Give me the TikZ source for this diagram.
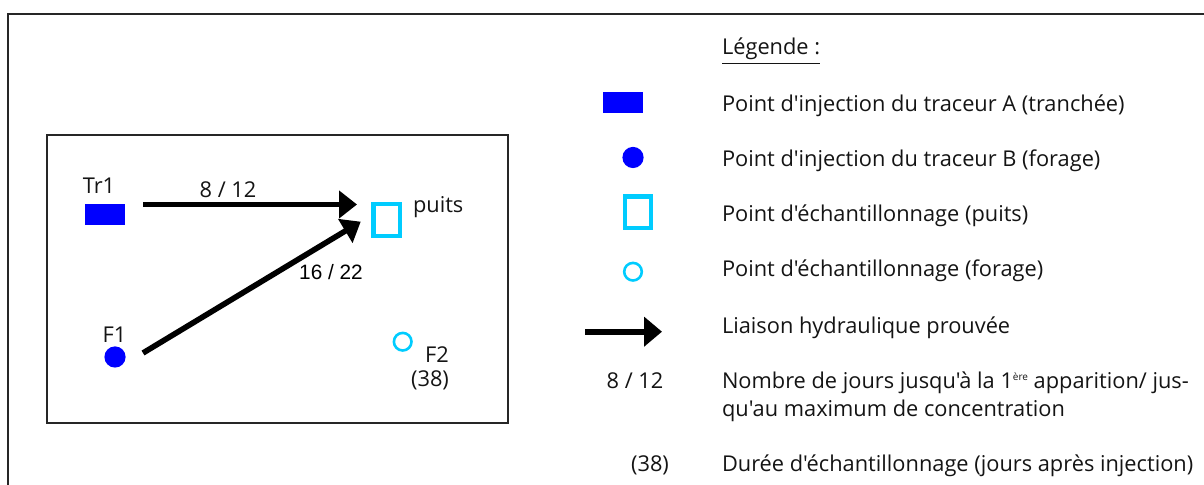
\documentclass[tikz,border=0pt]{standalone}
\usepackage{fontspec}
\newfontfamily\legf{Open Sans}
\newfontfamily\arialf{Liberation Sans}
\usetikzlibrary{arrows.meta}
\definecolor{injblue}{RGB}{0,0,255}
\definecolor{sampcyan}{RGB}{0,204,255}
\definecolor{txtgray}{RGB}{20,20,20}
\begin{document}
\begin{tikzpicture}[x=0.5pt,y=-0.5pt,
  txt/.style={inner sep=0pt, outer sep=0pt, text=txtgray, font=\legf\fontsize{10.9}{13}\selectfont},
  legtxt/.style={txt, anchor=base west},
  rectinj/.style={rectangle, fill=injblue, draw=none, minimum width=20pt, minimum height=10.5pt, inner sep=0pt},
  dotinj/.style={circle, fill=injblue, draw=none, minimum size=10.6pt, inner sep=0pt},
  sqsamp/.style={rectangle, draw=sampcyan, line width=2.2pt, minimum width=13.2pt, minimum height=15.8pt, inner sep=0pt},
  circsamp/.style={circle, draw=sampcyan, line width=1.3pt, minimum size=8.8pt, inner sep=0pt},
  flow/.style={line width=2.8pt, -{Triangle[length=9pt,width=13.5pt]}},
]
\useasboundingbox (0,0) rectangle (1204,485);
% outer frame
\coordinate (fbl) at (8,486);
\coordinate (ftl) at (8,14);
\coordinate (ftr) at (1205,14);
\draw[line width=1pt, black!85] (fbl) -- (ftl) -- (ftr);
% inner box
\coordinate (ibl) at (47,135);
\coordinate (itr) at (508,423);
\draw[line width=0.8pt, black!85] (ibl) rectangle (itr);

% map
\node[rectinj] (tr1) at (105,214.5) {};
\node[txt, anchor=base] (tr1lbl) at (99,194) {Tr1};
\node[sqsamp] (puits) at (386.5,220) {};
\node[txt, anchor=base west] (puitslbl) at (413,213) {puits};
\node[dotinj] (f1) at (115,357) {};
\node[txt, anchor=base] (f1lbl) at (114.5,343) {F1};
\node[circsamp] (f2) at (402.7,341.7) {};
\node[txt, anchor=base] (f2lbl) at (437,363) {F2};
\node[txt, anchor=base] (f2dur) at (430,387) {(38)};

\coordinate (a1s) at (143,204.5);
\coordinate (a1e) at (357,204.5);
\coordinate (a2s) at (143,353);
\coordinate (a2e) at (360.7,221.7);
\draw[flow] (a1s) -- (a1e);
\draw[flow] (a2s) -- (a2e);
\node[txt, anchor=base] (lab1) at (228,198) {8 / 12};
\node[inner sep=0pt, anchor=base, font=\arialf\fontsize{10.4}{12}\selectfont] (lab2) at (331,280) {16 / 22};

% legend
\node[legtxt] (legtitle) at (722,55) {\underline{Légende :}};
\node[rectinj] (lrect) at (623,102.5) {};
\node[legtxt] (lt1) at (722,112) {Point d'injection du traceur A (tranchée)};
\node[dotinj] (ldot) at (633,157.5) {};
\node[legtxt] (lt2) at (722,167) {Point d'injection du traceur B (forage)};
\node[sqsamp] (lsq) at (638,212.5) {};
\node[legtxt] (lt3) at (722,222) {Point d'échantillonnage (puits)};
\node[circsamp] (lcirc) at (633,271.7) {};
\node[legtxt] (lt4) at (722,277) {Point d'échantillonnage (forage)};
\coordinate (las) at (585,331.7);
\coordinate (lae) at (662,331.7);
\draw[line width=3pt, -{Triangle[length=9pt,width=14.5pt]}] (las) -- (lae);
\node[legtxt] (lt5) at (722,334) {Liaison hydraulique prouvée};
\node[txt, anchor=base] (l812) at (635,389) {8 / 12};
\node[legtxt] (lt6) at (722,389) {Nombre de jours jusqu'à la 1\raisebox{0.75ex}{\fontsize{5}{5}\selectfont ère} apparition/ jus-};
\node[legtxt] (lt7) at (722,417) {qu'au maximum de concentration};
\node[txt, anchor=base] (l38) at (650,472) {(38)};
\node[legtxt] (lt8) at (722,472) {Durée d'échantillonnage (jours après injection)};
\end{tikzpicture}
\end{document}
